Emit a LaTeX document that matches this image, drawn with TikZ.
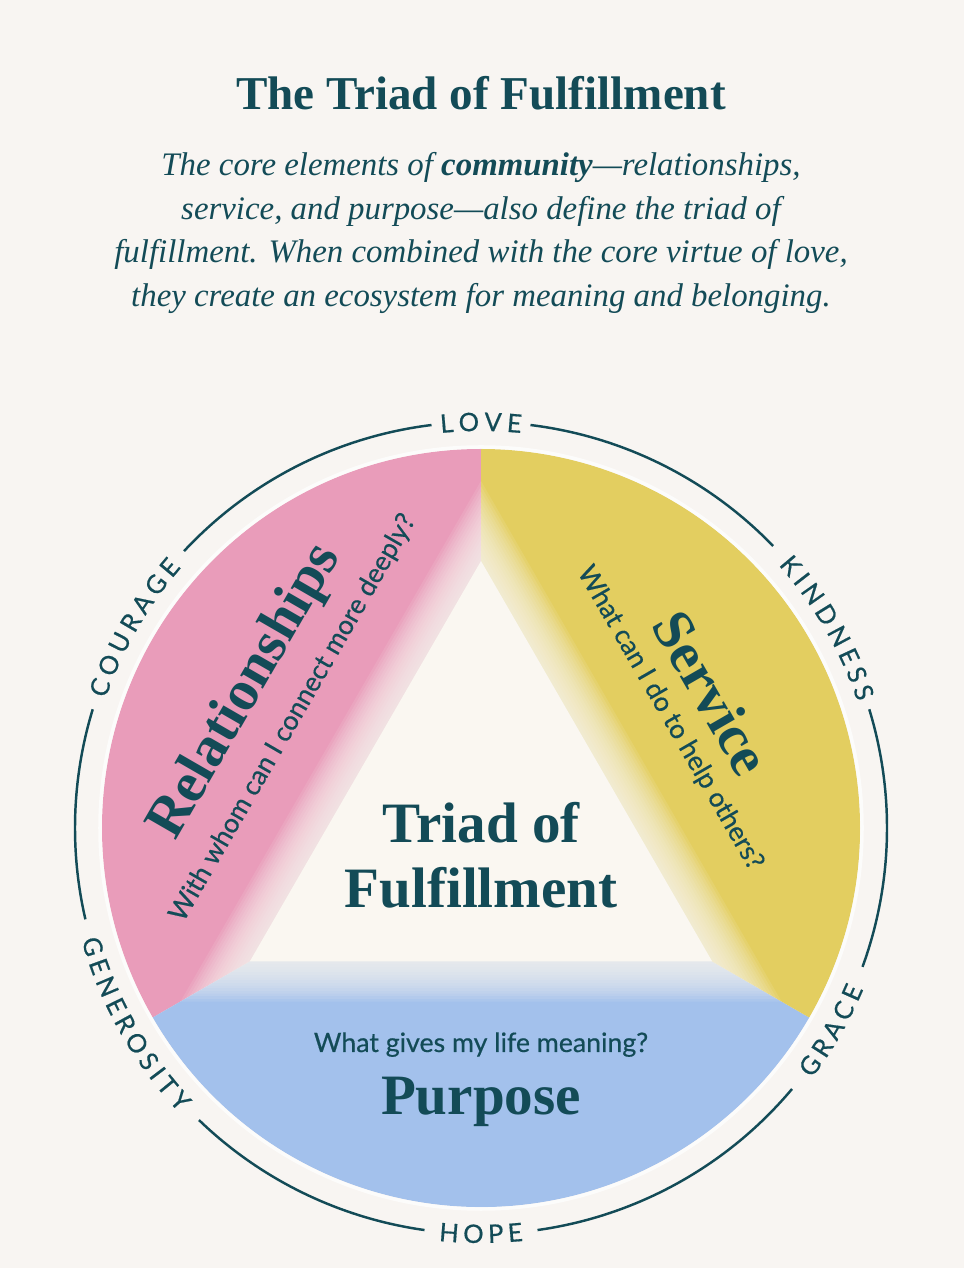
\documentclass[tikz,border=0pt]{standalone}
\usepackage{fontspec}
\setmainfont{Liberation Serif}
\newfontfamily\labelfont[FakeBold=0.5]{Lato}
\newfontfamily\ringfont[FakeBold=0.6]{Lato}
\usetikzlibrary{decorations.text,calc}
\definecolor{ink}{HTML}{134B57}
\definecolor{paper}{HTML}{F8F5F2}
\definecolor{cream}{HTML}{FAF7F1}
\definecolor{rose}{HTML}{E99CBA}
\definecolor{mustard}{HTML}{E3CE60}
\definecolor{sky}{HTML}{A3C1EC}
\newcommand\virtuefont{\ringfont\fontsize{14.5}{16}\selectfont\spaceskip=2.8pt\relax}

\begin{document}
\begin{tikzpicture}[x=0.02cm, y=0.02cm,
  heading/.style={font=\bfseries\fontsize{32.5}{36}\selectfont, text=ink, inner sep=0pt},
  question/.style={font=\labelfont\fontsize{15.2}{18}\selectfont, text=ink, inner sep=0pt},
  ring/.style={line width=1.4pt, draw=ink},
  virtue/.style={decorate, decoration={text along path, text align=center, text color=ink}}]
  \useasboundingbox[fill=paper] (0,0) rectangle (964,1268);
  \coordinate (c) at (481,440);
  % title and intro
  \node[font=\bfseries\fontsize{26.8}{30}\selectfont, text=ink] (title) at (481,1175) {The Triad of Fulfillment};
  \node[font=\itshape\fontsize{18.7}{25}\selectfont, text=ink, align=center] (intro) at (481,1035)
    {The core elements of \textbf{community}---relationships,\\ service, and purpose---also define the triad of\\
     fulfillment. When combined with the core virtue of love,\\ they create an ecosystem for meaning and belonging.};
  % three sectors
  \fill[rose] (c) -- ++(90:379) arc[start angle=90, end angle=210, radius=379] -- cycle;
  \fill[sky] (c) -- ++(210:379) arc[start angle=210, end angle=330, radius=379] -- cycle;
  \fill[mustard] (c) -- ++(-30:379) arc[start angle=-30, end angle=90, radius=379] -- cycle;
  \draw[white, opacity=0.7, line width=2pt] (c) circle[radius=381];
  % soft triangle in the middle
  \begin{scope}
    \clip (c) circle[radius=379];
    \foreach \s in {1.30,1.28,...,1.01}
      \fill[cream, opacity=0.1] ($(c)+(90:267*\s)$) -- ($(c)+(210:267*\s)$) -- ($(c)+(330:267*\s)$) -- cycle;
  \end{scope}
  \fill[cream] ($(c)+(90:267)$) -- ($(c)+(210:267)$) -- ($(c)+(330:267)$) -- cycle;
  % texts inside the disc
  \node[heading, anchor=base] (triad) at (481,425) {Triad of};
  \node[heading, anchor=base] (fulfil) at (481,360) {Fulfillment};
  \node[heading, rotate=60] (rel) at (246,576) {Relationships};
  \node[question, rotate=60] (relq) at (293,550) {With whom can I connect more deeply?};
  \node[heading, rotate=-60] (serv) at (712,575) {Service};
  \node[question, rotate=-60] (servq) at (670,550) {What can I do to help others?};
  \node[question, anchor=base] (purq) at (481,216) {What gives my life meaning?};
  \node[heading, anchor=base] (pur) at (481,153) {Purpose};
  % outer ring and virtues
  \foreach \a/\b in {44/83, 97/137, 163/193, 226/262, 278/320, 340/377}
    \draw[ring] ($(c)+(\a:406)$) arc[start angle=\a, end angle=\b, radius=406];
  \path[virtue, decoration={text={|\virtuefont|L O V E}}] ($(c)+(120:397)$) arc[start angle=120, end angle=60, radius=397];
  \path[virtue, decoration={text={|\virtuefont|K I N D N E S S}}] ($(c)+(60:397)$) arc[start angle=60, end angle=0, radius=397];
  \path[virtue, decoration={text={|\virtuefont|C O U R A G E}}] ($(c)+(180:397)$) arc[start angle=180, end angle=120, radius=397];
  \path[virtue, decoration={text={|\virtuefont|H O P E}}] ($(c)+(240:415)$) arc[start angle=240, end angle=300, radius=415];
  \path[virtue, decoration={text={|\virtuefont|G E N E R O S I T Y}}] ($(c)+(179.5:415)$) arc[start angle=179.5, end angle=239.5, radius=415];
  \path[virtue, decoration={text={|\virtuefont|G R A C E}}] ($(c)+(300:415)$) arc[start angle=300, end angle=360, radius=415];
\end{tikzpicture}
\end{document}
